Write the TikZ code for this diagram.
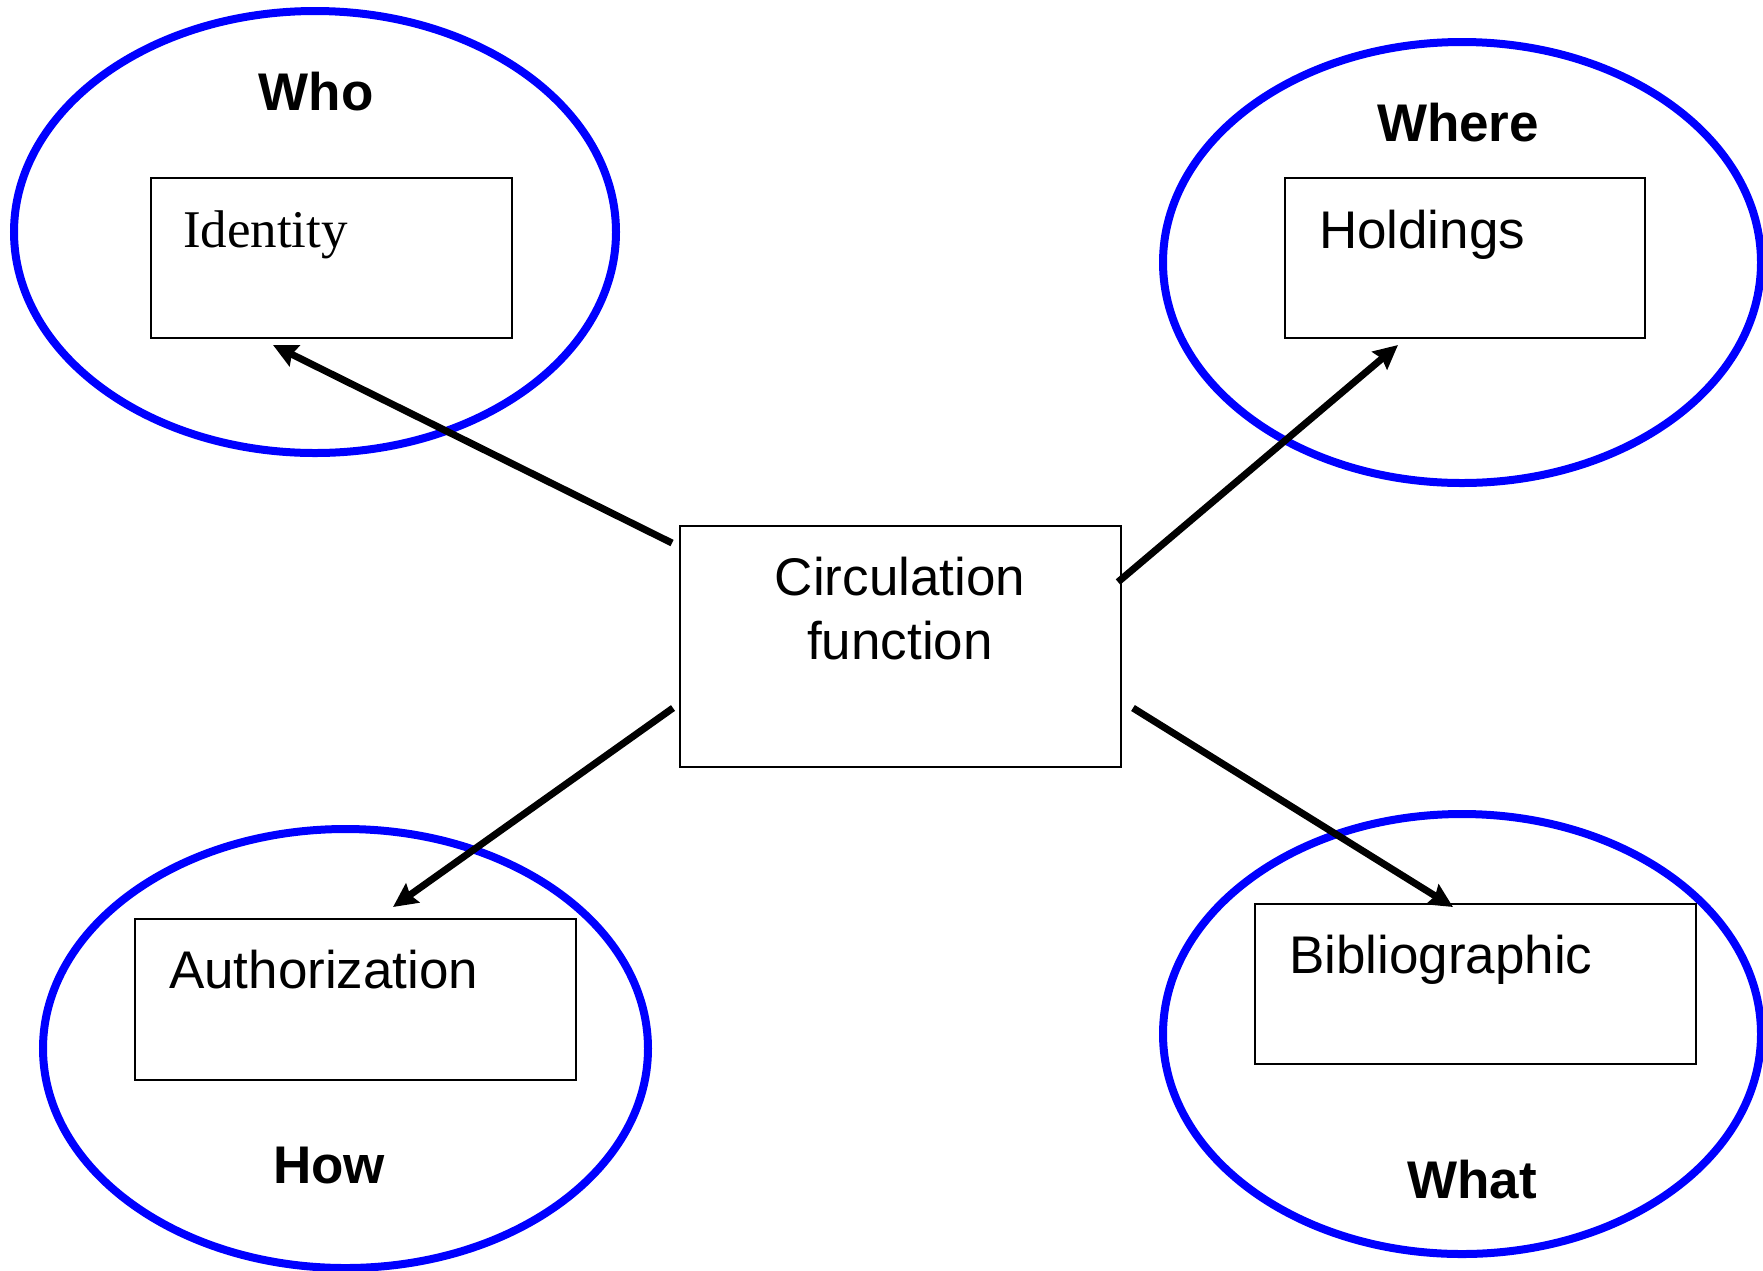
\documentclass[tikz,border=0pt]{standalone}
\usepackage{fontspec}
\setmainfont{Liberation Sans}
\newfontfamily\timesface{Liberation Serif}
\usetikzlibrary{shapes.geometric,arrows.meta,calc}
\definecolor{ringblue}{RGB}{0,0,255}
\begin{document}
\begin{tikzpicture}[x=1pt,y=-1pt,
  ring/.style={ellipse, draw=ringblue, line width=8pt, inner sep=0pt, outer sep=0pt},
  card/.style={rectangle, draw=black, line width=2.5pt, inner sep=0pt, outer sep=0pt},
  word/.style={inner sep=0pt, outer sep=0pt, font=\fontsize{53}{63}\selectfont},
  head/.style={inner sep=0pt, outer sep=0pt, font=\fontsize{53}{63}\selectfont\bfseries},
  link/.style={line width=7pt, -{Stealth[length=24pt,width=23pt,inset=3pt]}}]

\useasboundingbox (0,0) rectangle (1763,1270);

% four question groups
\node[ring, minimum width=602pt, minimum height=442pt] (whoRing)   at (315,232)    {};
\node[ring, minimum width=598pt, minimum height=441pt] (whereRing) at (1462,262.5) {};
\node[ring, minimum width=605pt, minimum height=439pt] (howRing)   at (345.5,1048.5) {};
\node[ring, minimum width=598pt, minimum height=440pt] (whatRing)  at (1462,1034)  {};

% boxes
\node[card, minimum width=361pt, minimum height=160pt] (idbox)   at (331.5,258)  {};
\node[card, minimum width=360pt, minimum height=160pt] (holdbox) at (1465,258)   {};
\node[card, minimum width=441pt, minimum height=241pt] (circ)    at (900.5,646.5) {};
\node[card, minimum width=441pt, minimum height=161pt] (authbox) at (355.5,999.5) {};
\node[card, minimum width=441pt, minimum height=160pt] (bibbox)  at (1475.5,984) {};

% headings
\node[head, anchor=base] (whoTxt)   at (316,110)   {Who};
\node[head, anchor=base] (whereTxt) at (1458,141)  {Where};
\node[head, anchor=base] (howTxt)   at (329,1183)  {How};
\node[head, anchor=base] (whatTxt)  at (1472,1198) {What};

% box texts
\node[word, anchor=base west, font=\fontsize{53}{63}\selectfont\timesface] (idTxt) at (183,247) {Identity};
\node[word, anchor=base west] (holdTxt) at (1319,248) {Holdings};
\node[word, anchor=base] (circTxtA) at (900,595) {Circulation};
\node[word, anchor=base] (circTxtB) at (900,659) {function};
\node[word, anchor=base west] (authTxt) at (169,988) {Authorization};
\node[word, anchor=base west] (bibTxt)  at (1289,973) {Bibliographic};

% connectors from the circulation function
\draw[link] ($(circ.north west)+(-8,17)$)  -- ($(idbox.south west)+(122,7)$);
\draw[link] ($(circ.north east)+(-3,56)$)  -- ($(holdbox.south west)+(113,7)$);
\draw[link] ($(circ.south west)+(-7,-59)$) -- ($(authbox.north west)+(258,-12)$);
\draw[link] ($(circ.south east)+(12,-59)$) -- ($(bibbox.north west)+(198,3)$);
\end{tikzpicture}
\end{document}
